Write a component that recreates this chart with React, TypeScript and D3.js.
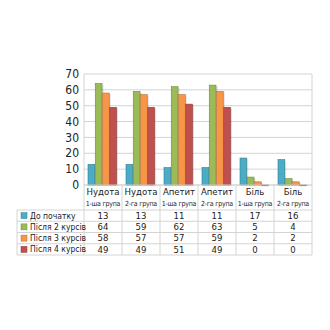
import React from "react";
import * as d3 from "d3";

const categories = ["Нудота", "Нудота", "Апетит", "Апетит", "Біль", "Біль"];
const groups = ["1-ша група", "2-га група", "1-ша група", "2-га група", "1-ша група", "2-га група"];
const seriesNames = ["До початку", "Після 2 курсів", "Після 3 курсів", "Після 4 курсів"];
const seriesColors = ["#4bacc6", "#9bbb59", "#f79646", "#c0504d"];
const seriesStroke = ["#357d91", "#71893f", "#b86d2f", "#8c3836"];
const beforeStart = [13, 13, 11, 11, 17, 16];
const after2 = [64, 59, 62, 63, 5, 4];
const after3 = [58, 57, 57, 59, 2, 2];
const after4 = [49, 49, 51, 49, 0, 0];
const yTicks = [0, 10, 20, 30, 40, 50, 60, 70];

const series = [beforeStart, after2, after3, after4];

const W = 330;
const H = 330;
const left = 84;
const right = 312;
const top = 74;
const base = 185;
const tableLeft = 17;
const headerBottom = 210;
const rowH = 11.25;
const font = "'DejaVu Sans Condensed', 'DejaVu Sans', sans-serif";
const gridColor = "#d4d4d4";

export default function App() {
  const x = d3.scaleBand<number>().domain(d3.range(categories.length)).range([left, right]).padding(0);
  const inner = d3
    .scaleBand<number>()
    .domain(d3.range(series.length))
    .range([4, x.bandwidth() - 5])
    .padding(0);
  const y = d3.scaleLinear().domain([0, 70]).range([base, top]);
  const tableBottom = headerBottom + rowH * series.length;

  return (
    <svg width={W} height={H} style={{ position: "absolute", left: 0, top: 0, background: "#fff" }}>
      {/* gridlines */}
      {yTicks.map((t) => (
        <line key={t} x1={left} x2={right} y1={y(t)} y2={y(t)} stroke={gridColor} strokeWidth={1} />
      ))}
      <line x1={right} x2={right} y1={top} y2={tableBottom} stroke={gridColor} />
      {/* y tick labels */}
      {yTicks.map((t) => (
        <text key={t} x={left - 5} y={y(t)} dy="0.35em" textAnchor="end" fontFamily={font} fontSize={12} fill="#222">
          {t}
        </text>
      ))}
      {/* bars */}
      {series.map((vals, s) =>
        vals.map((v, i) => {
          const bx = (x(i) as number) + (inner(s) as number);
          const bw = inner.bandwidth();
          const yy = y(v);
          return (
            <g key={`${s}-${i}`}>
              <rect x={bx + 1} y={yy + 1} width={bw} height={base - yy} fill="#000" opacity={0.12} />
              <rect x={bx} y={yy} width={bw - 0.5} height={Math.max(base - yy, 0.8)} fill={seriesColors[s]} stroke={seriesStroke[s]} strokeWidth={0.6} />
            </g>
          );
        })
      )}
      {/* axis frame */}
      <line x1={left} x2={left} y1={top} y2={tableBottom} stroke={gridColor} />
      <line x1={left} x2={right} y1={base} y2={base} stroke={gridColor} />
      {/* category separators */}
      {d3.range(1, categories.length).map((i) => (
        <line key={i} x1={x(i) as number} x2={x(i) as number} y1={base} y2={tableBottom} stroke={gridColor} />
      ))}
      {/* category headers */}
      {categories.map((c, i) => (
        <g key={i}>
          <text x={(x(i) as number) + x.bandwidth() / 2} y={192} dy="0.35em" textAnchor="middle" fontFamily={font} fontSize={9.5} fill="#222">
            {c}
          </text>
          <text x={(x(i) as number) + x.bandwidth() / 2} y={203.5} dy="0.35em" textAnchor="middle" fontFamily={font} fontSize={7} fill="#222" letterSpacing={-0.25}>
            {groups[i]}
          </text>
        </g>
      ))}
      {/* table rows */}
      {d3.range(series.length + 1).map((r) => (
        <line key={r} x1={tableLeft} x2={right} y1={headerBottom + r * rowH} y2={headerBottom + r * rowH} stroke={gridColor} />
      ))}
      <line x1={tableLeft} x2={tableLeft} y1={headerBottom} y2={tableBottom} stroke={gridColor} />
      {series.map((vals, s) => {
        const cy = headerBottom + s * rowH + rowH / 2;
        return (
          <g key={s}>
            <rect x={21} y={cy - 3} width={6} height={6} fill={seriesColors[s]} stroke={seriesStroke[s]} strokeWidth={0.5} />
            <text x={30} y={cy} dy="0.35em" fontFamily={font} fontSize={8.5} fill="#222">
              {seriesNames[s]}
            </text>
            {vals.map((v, i) => (
              <text key={i} x={(x(i) as number) + x.bandwidth() / 2} y={cy} dy="0.35em" textAnchor="middle" fontFamily={font} fontSize={9.5} fill="#222">
                {v}
              </text>
            ))}
          </g>
        );
      })}
    </svg>
  );
}
